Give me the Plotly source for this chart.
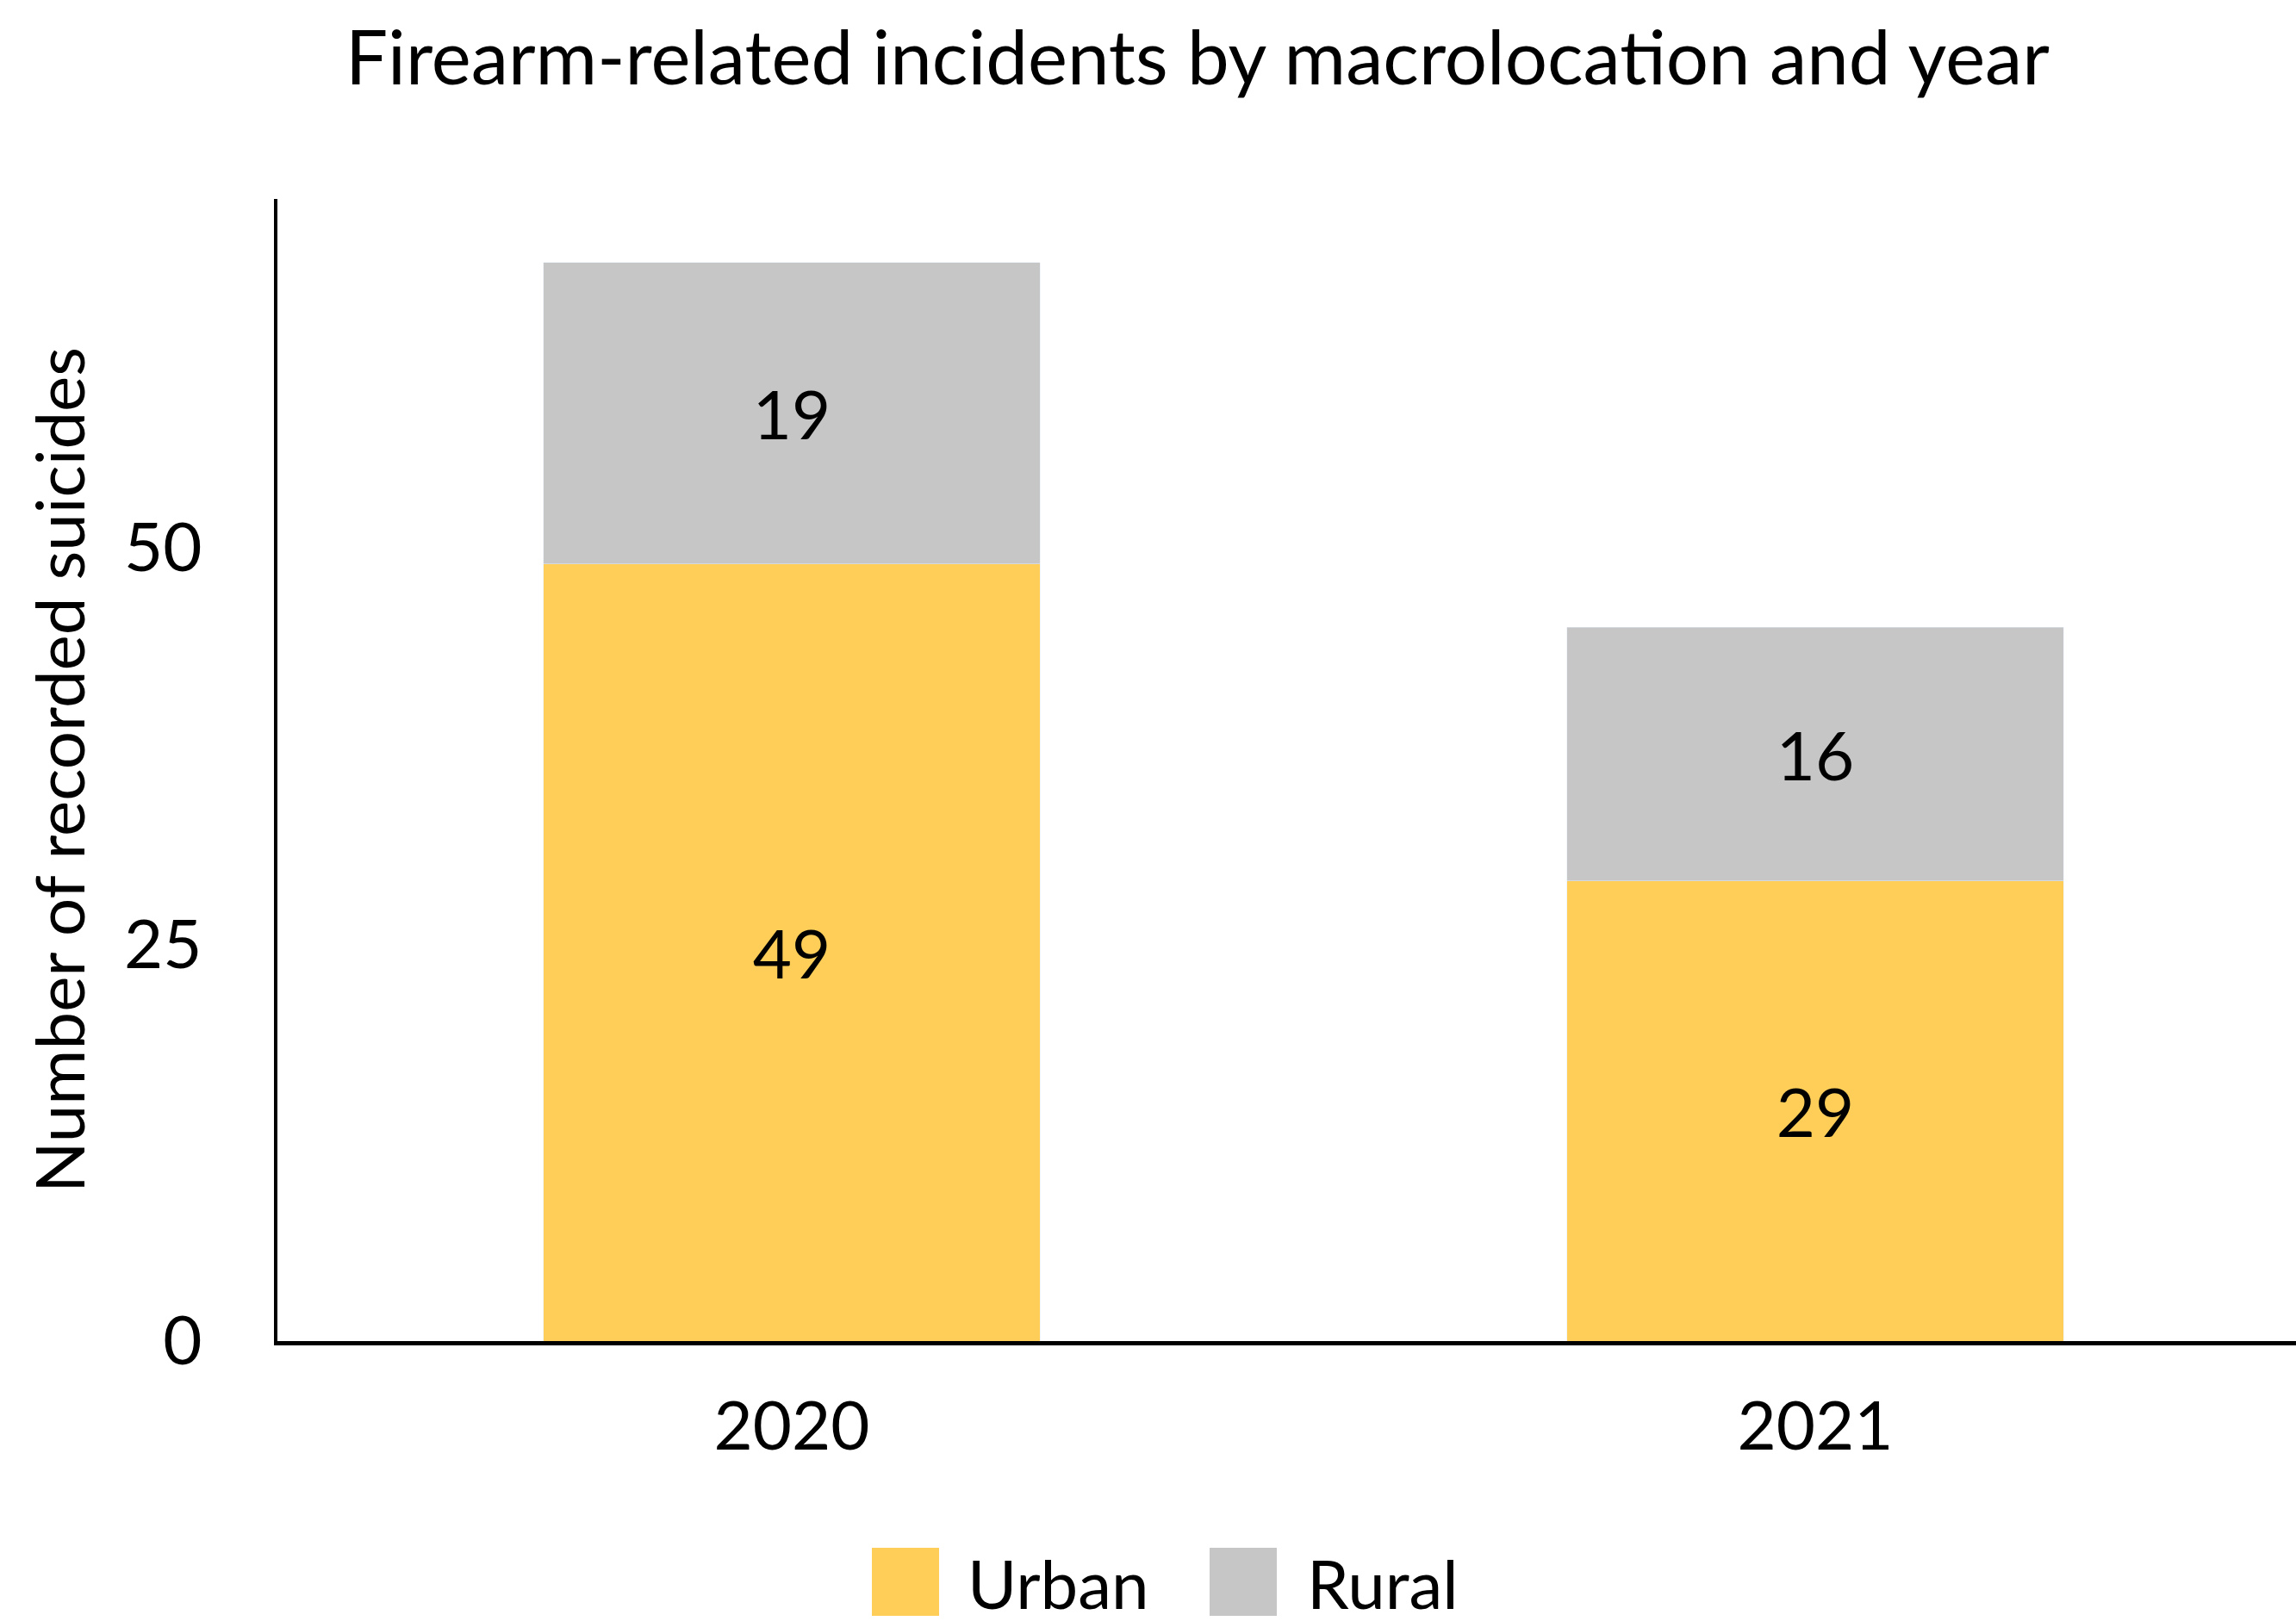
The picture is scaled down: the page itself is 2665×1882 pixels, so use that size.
import plotly.graph_objects as go

# Chart data
years = ["2020", "2021"]
urban = [49, 29]
rural = [19, 16]
series_names = ["Urban", "Rural"]

YELLOW = "#FECE58"
GREY = "#C6C6C6"
FONT = "Lato"

W, H = 2665, 1882
L, R, T, B = 322, 0, 231, 325
PW, PH = W - L - R, H - T - B


def px_x(p):
    """Figure pixel column -> paper x."""
    return (p - L) / PW


def px_y(p):
    """Figure pixel row -> paper y."""
    return (H - B - p) / PH


fig = go.Figure()
fig.add_trace(go.Bar(
    x=years, y=urban, name=series_names[0], marker_color=YELLOW,
    text=urban, textposition="inside", insidetextanchor="middle",
    textfont=dict(family=FONT, size=78, color="black"),
    width=0.485, showlegend=False,
))
fig.add_trace(go.Bar(
    x=years, y=rural, name=series_names[1], marker_color=GREY,
    text=rural, textposition="inside", insidetextanchor="middle",
    textfont=dict(family=FONT, size=78, color="black"),
    width=0.485, showlegend=False,
))

# Legend drawn as large square swatches with labels
legend_items = [
    (series_names[0], YELLOW, 1012, 1121),
    (series_names[1], GREY, 1404, 1515),
]
shapes = []
annotations = []
for name, color, sx, tx in legend_items:
    shapes.append(dict(
        type="rect", xref="paper", yref="paper",
        x0=px_x(sx), x1=px_x(sx + 78), y0=px_y(1797), y1=px_y(1876),
        fillcolor=color, line=dict(width=0),
    ))
    annotations.append(dict(
        text=name, xref="paper", yref="paper", x=px_x(tx), y=px_y(1838),
        xanchor="left", yanchor="middle", showarrow=False,
        font=dict(family=FONT, size=78, color="black"),
    ))

# Y axis title
annotations.append(dict(
    text="Number of recorded suicides", xref="paper", yref="paper",
    x=px_x(68), y=0.5, xanchor="center", yanchor="middle", textangle=-90,
    showarrow=False, font=dict(family=FONT, size=78, color="black"),
))

fig.update_layout(
    width=W, height=H,
    barmode="stack",
    plot_bgcolor="white", paper_bgcolor="white",
    margin=dict(l=L, r=R, t=T, b=B, pad=0),
    font=dict(family=FONT, size=78, color="black"),
    title=dict(
        text="Firearm-related incidents by macrolocation and year",
        xref="container", yref="container",
        x=1390 / W, y=1 - 68 / H, xanchor="center", yanchor="middle",
        font=dict(family=FONT, size=87, color="black"),
    ),
    xaxis=dict(
        type="category", range=[-0.5025, 1.4697],
        showline=True, linecolor="black", linewidth=5,
        showgrid=False, ticks="", ticklabelstandoff=27,
        tickfont=dict(family=FONT, size=78, color="black"),
    ),
    yaxis=dict(
        range=[0, 72], tickvals=[0, 25, 50],
        showline=True, linecolor="black", linewidth=4,
        showgrid=False, zeroline=True, zerolinecolor="#C8C8C8", zerolinewidth=1,
        ticks="", ticklabelstandoff=68,
        tickfont=dict(family=FONT, size=78, color="black"),
    ),
    shapes=shapes,
    annotations=annotations,
    showlegend=False,
)

fig.write_html("out.html")
